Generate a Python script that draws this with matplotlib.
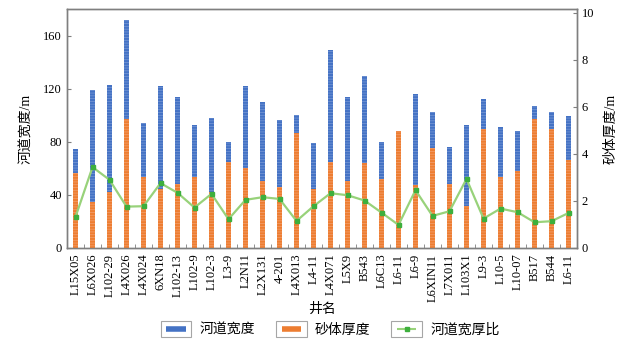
import matplotlib
matplotlib.use('Agg')
import matplotlib.pyplot as plt
import numpy as np
from matplotlib.patches import Rectangle
from matplotlib.lines import Line2D

plt.rcParams['font.family'] = ['Liberation Serif', 'Noto Sans CJK SC']
plt.rcParams['hatch.linewidth'] = 0.5

wells = ['L15X05', 'L6X026', 'L102-29', 'L4X026', 'L4X024', '6XN18', 'L102-13',
         'L102-9', 'L102-3', 'L3-9', 'L2N11', 'L2X131', '4-201', 'L4X013', 'L4-11',
         'L4X071', 'L5X9', 'B543', 'L6C13', 'L6-11', 'L6-9', 'L6XIN11', 'L7X011',
         'L103X1', 'L9-3', 'L10-5', 'L10-07', 'B517', 'B544', 'L6-11']
# 河道宽度 (m), left axis
width = [75, 119.4, 123.2, 172, 94, 122.4, 113.6, 92.7, 97.7, 79.6, 122.4, 110.3,
         96.7, 100.5, 79.1, 149.6, 113.9, 130, 79.6, 86.8, 116, 102.8, 76.3, 93,
         112.6, 91.2, 88.4, 107, 102.8, 99.2]
# 砂体厚度 (m), right axis
thick = [3.2, 1.97, 2.4, 5.5, 3.0, 2.51, 2.73, 3.03, 2.4, 3.66, 3.41, 2.87, 2.61,
         4.9, 2.51, 3.65, 2.86, 3.61, 2.94, 4.99, 2.66, 4.26, 2.74, 1.78, 5.07,
         3.03, 3.28, 5.47, 5.07, 3.75]
# 河道宽厚比, left axis
ratio = [23.4, 61, 51.4, 31.2, 31.5, 48.9, 41.6, 30.5, 40.8, 21.7, 36.3, 38.3, 37,
         20.4, 31.5, 41.3, 39.8, 35.8, 26.7, 17.4, 43.6, 24.2, 27.7, 52.1, 22.2,
         29.7, 27, 19.4, 20.2, 26.4]

blue = '#4472C4'
orange = '#ED7D31'
lgreen = '#98D27A'
dgreen = '#3DAF3D'
spine = '#7F7F7F'

x = np.arange(len(wells))

fig = plt.figure(figsize=(6.28, 3.42), dpi=100)
ax = fig.add_axes([0.1067, 0.2749, 0.8121, 0.6979])
ax2 = ax.twinx()

ax.bar(x, width, 0.32, color=blue, edgecolor='#7A9AD6', linewidth=0,
       hatch='------', zorder=2)
ax.set_zorder(1)
ax.patch.set_visible(False)
ax2.set_zorder(2)
ax2.bar(x, thick, 0.32, color=orange, edgecolor='#F3A070', linewidth=0,
        hatch='------', zorder=2)
ax3 = ax.twinx()
ax3.set_zorder(3)
ax3.plot(x, ratio, color=lgreen, lw=1.6, marker='s', ms=3.2, mfc=dgreen,
         mec=dgreen)
ax3.set_ylim(0, 180)
ax3.axis('off')

ax.set_ylim(0, 180)
ax.set_yticks([0, 40, 80, 120, 160])
ax2.set_ylim(0, 180 / 17.73)
ax2.set_yticks([0, 2, 4, 6, 8, 10])
ax.set_xlim(-0.5, len(wells) - 0.5)

ax.set_xticks(x)
ax.set_xticklabels(wells, rotation=90, fontsize=9)
ax.set_xticks(np.arange(-0.5, len(wells)), minor=True)
ax.tick_params(axis='x', which='major', length=0, pad=4)
ax.tick_params(axis='x', which='minor', direction='in', length=3, color=spine)
ax.tick_params(axis='y', direction='in', length=3, color=spine, labelsize=9)
ax2.tick_params(axis='y', direction='in', length=3, color=spine, labelsize=9)

for a in (ax, ax2):
    for s in a.spines.values():
        s.set_color(spine)
        s.set_linewidth(1.0)

ax.set_ylabel('河道宽度/m', fontsize=10, labelpad=7)
ax2.set_ylabel('砂体厚度/m', fontsize=10, labelpad=7)
ax.set_xlabel('井名', fontsize=10, labelpad=1)


class BoxHandler:
    def __init__(self, color, lw, marker=False):
        self.color = color
        self.lw = lw
        self.marker = marker

    def legend_artist(self, legend, orig_handle, fontsize, handlebox):
        x0, y0 = handlebox.xdescent, handlebox.ydescent
        w, h = handlebox.width, handlebox.height
        tr = handlebox.get_transform()
        box = Rectangle((x0 - 1, y0 - 2), w + 2, h + 4, facecolor='white',
                        edgecolor='#A6A6A6', lw=0.8, transform=tr)
        handlebox.add_artist(box)
        ln = Line2D([x0 + 3, x0 + w - 3], [y0 + h / 2, y0 + h / 2], color=self.color,
                    lw=self.lw, solid_capstyle='butt', transform=tr)
        handlebox.add_artist(ln)
        if self.marker:
            mk = Line2D([x0 + w / 2], [y0 + h / 2], marker='s', ms=3, color=dgreen,
                        transform=tr)
            handlebox.add_artist(mk)
        return box


h1 = Rectangle((0, 0), 1, 1)
h2 = Rectangle((0, 0), 1, 1)
h3 = Line2D([], [])
fig.legend([h1, h2, h3], ['河道宽度', '砂体厚度', '河道宽厚比'],
           handler_map={h1: BoxHandler(blue, 4), h2: BoxHandler(orange, 4),
                        h3: BoxHandler(lgreen, 1.5, marker=True)},
           loc='center', bbox_to_anchor=(0.527, 0.035), ncol=3, frameon=False,
           fontsize=10, handlelength=2.0, columnspacing=1.6, handletextpad=0.7)

fig.savefig('out.png', dpi=100)
